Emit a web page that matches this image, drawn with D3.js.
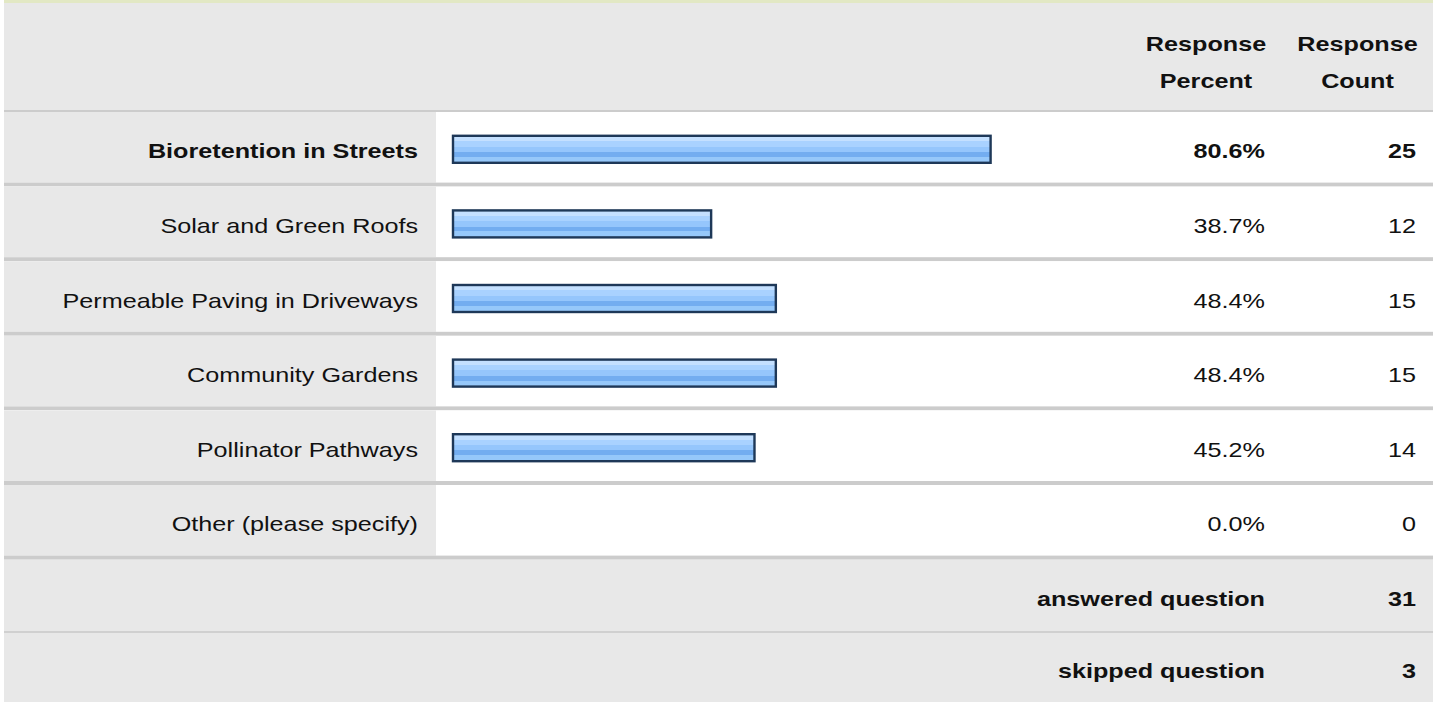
<!DOCTYPE html>
<html>
<head>
<meta charset="utf-8">
<script src="https://cdn.jsdelivr.net/npm/d3@7"></script>
<style>
    html, body { margin: 0; padding: 0; background: #fff; }
    svg { display: block; font-family: "Liberation Sans", Arial, sans-serif; }
</style>
</head>
<body>
<div id="chart"></div>
<script>
    var answers = ['Bioretention in Streets', 'Solar and Green Roofs', 'Permeable Paving in Driveways',
        'Community Gardens', 'Pollinator Pathways', 'Other (please specify)'];
    var percents = [80.6, 38.7, 48.4, 48.4, 45.2, 0.0];
    var counts = [25, 12, 15, 15, 14, 0];
    var headers = [['Response', 'Percent'], ['Response', 'Count']];
    var summaryLabels = ['answered question', 'skipped question'];
    var summaryCounts = [31, 3];

    var width = 1440, height = 702,
        left = 4, right = 1433,
        labelCol = 436, pctCol = 1130, countCol = 1282,
        stretch = 1.26, fontSize = 20;

    var svg = d3.select('#chart').append('svg')
        .attr('width', width)
        .attr('height', height);

    var x = d3.scaleLinear().domain([0, 100]).range([453, 1120]);
    var rowY = d3.scaleLinear().domain([0, answers.length]).range([112, 559.6]);
    var rowH = rowY(1) - rowY(0) - 4;

    var grad = svg.append('defs').append('linearGradient')
        .attr('id', 'barFill')
        .attr('x1', 0).attr('y1', 0).attr('x2', 0).attr('y2', 1);
    [[0, '#c4e0ff'], [0.2, '#c4e0ff'], [0.2, '#a9d2ff'], [0.4, '#a9d2ff'], [0.4, '#95c6fc'],
        [0.6, '#95c6fc'], [0.6, '#73adf0'], [0.78, '#73adf0'], [0.78, '#96c8fa'], [1, '#96c8fa']]
        .forEach(function(s) {
            grad.append('stop').attr('offset', s[0]).attr('stop-color', s[1]);
        });

    function text(g, str, tx, ty, anchor, bold) {
        return g.append('text')
            .attr('transform', 'translate(' + tx + ',' + ty + ') scale(' + stretch + ',1)')
            .attr('text-anchor', anchor)
            .attr('font-size', fontSize)
            .attr('font-weight', bold ? 'bold' : 'normal')
            .attr('fill', '#111')
            .text(str);
    }

    // top border and header
    svg.append('rect').attr('x', left).attr('y', 0).attr('width', right - left).attr('height', 3).attr('fill', '#e2e8c4');
    svg.append('rect').attr('x', left).attr('y', 3).attr('width', right - left).attr('height', 107).attr('fill', '#e8e8e8');
    svg.append('rect').attr('x', left).attr('y', 110).attr('width', right - left).attr('height', 2).attr('fill', '#cccccc');

    var head = svg.append('g');
    headers.forEach(function(h, i) {
        var cx = i === 0 ? (pctCol + countCol) / 2 : (countCol + right) / 2;
        text(head, h[0], cx, 51, 'middle', true);
        text(head, h[1], cx, 88, 'middle', true);
    });

    var maxPct = d3.max(percents);

    var rows = svg.append('g').selectAll('g')
        .data(answers)
        .enter().append('g')
        .attr('transform', function(d, i) { return 'translate(0,' + rowY(i) + ')'; });

    rows.append('rect')
        .attr('x', left).attr('width', right - left)
        .attr('height', rowH).attr('fill', '#ffffff');
    rows.append('rect')
        .attr('x', left).attr('width', labelCol - left)
        .attr('height', rowH).attr('fill', '#e8e8e8');
    rows.append('rect')
        .attr('x', left).attr('width', right - left)
        .attr('y', rowH).attr('height', 4).attr('fill', '#cccccc');

    rows.filter(function(d, i) { return percents[i] > 0; })
        .append('rect')
        .attr('x', x(0))
        .attr('y', rowH / 2 - 11.5)
        .attr('width', function(d) { return x(percents[answers.indexOf(d)]) - x(0); })
        .attr('height', 27)
        .attr('fill', 'url(#barFill)')
        .attr('stroke', '#1e3858')
        .attr('stroke-width', 2.4);

    rows.each(function(d, i) {
        var g = d3.select(this), bold = percents[i] === maxPct;
        text(g, d, 418, rowH / 2 + 11, 'end', bold);
        text(g, percents[i].toFixed(1) + '%', 1265, rowH / 2 + 11, 'end', bold);
        text(g, counts[i], 1416, rowH / 2 + 11, 'end', bold);
    });

    // summary rows
    var sumTop = [560, 633], sumH = [71, 69];
    var sums = svg.append('g');
    summaryLabels.forEach(function(s, i) {
        sums.append('rect').attr('x', left).attr('y', sumTop[i]).attr('width', right - left)
            .attr('height', sumH[i]).attr('fill', '#e8e8e8');
        if (i === 0) {
            sums.append('rect').attr('x', left).attr('y', 631).attr('width', right - left)
                .attr('height', 2).attr('fill', '#d0d0d0');
        }
        text(sums, s, 1265, sumTop[i] + sumH[i] / 2 + 10, 'end', true);
        text(sums, summaryCounts[i], 1416, sumTop[i] + sumH[i] / 2 + 10, 'end', true);
    });
</script>
</body>
</html>
